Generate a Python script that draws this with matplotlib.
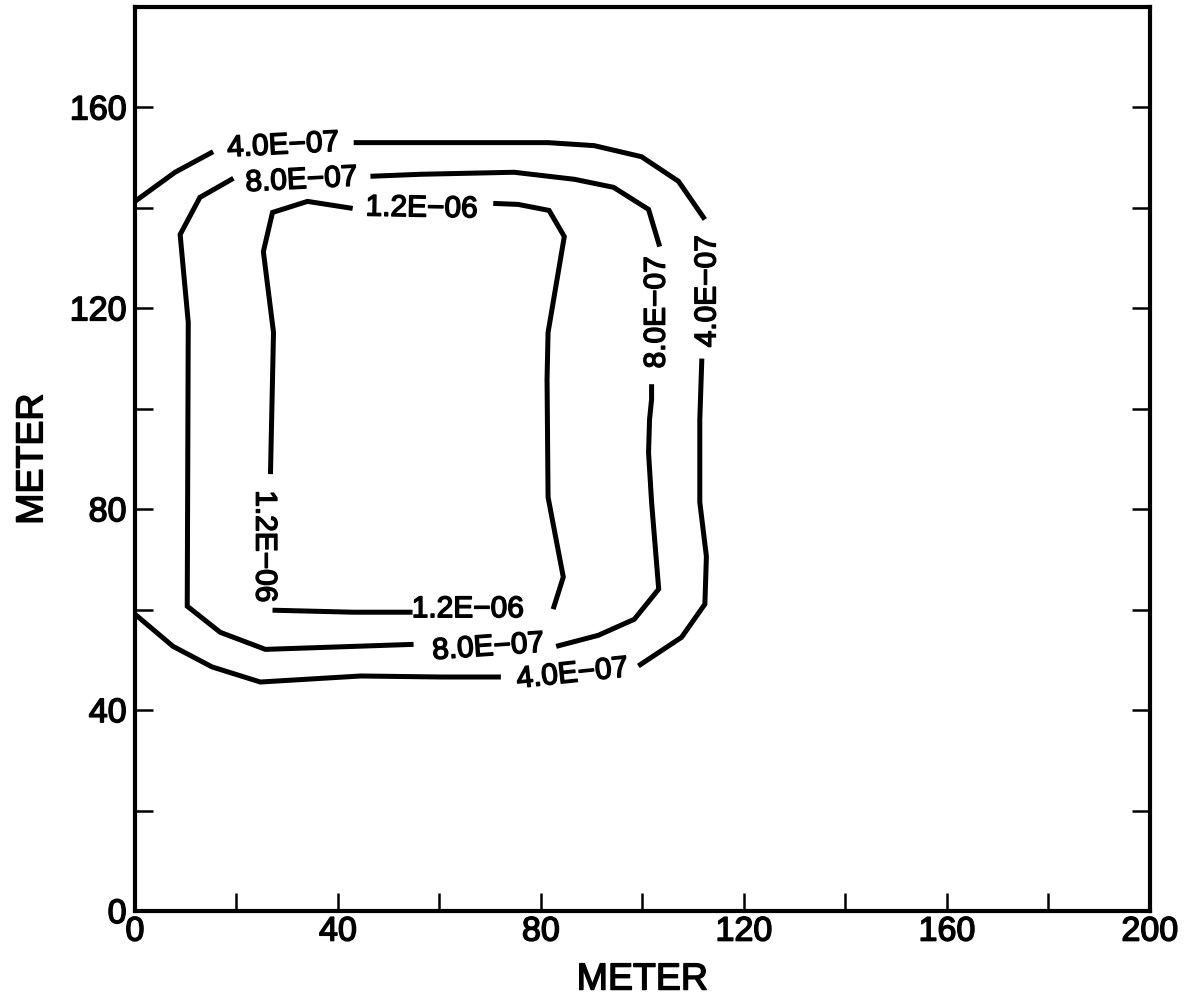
import matplotlib.pyplot as plt
import matplotlib.patheffects as pe
from matplotlib.ticker import FixedLocator, FixedFormatter

plt.rcParams['font.family'] = ['Liberation Sans', 'DejaVu Sans']

# contour 4.0E-07 (outer), pieces between the labels
c1_x = [[0, 7.9, 15.4],
        [43.1, 56.3, 81.4, 90.5, 99.8, 107.1, 112.3],
        [111.7, 111.3, 111.3, 112.6, 112.3, 107.7, 99.2],
        [72.1, 60.3, 44.5, 24.7, 15.2, 7.5, 0]]
c1_y = [[141.3, 147.1, 151.2],
        [153.0, 153.0, 153.0, 152.4, 150.2, 145.3, 137.7],
        [110.0, 97.9, 81.4, 70.6, 61.1, 54.5, 48.8],
        [46.6, 46.6, 46.8, 45.6, 48.6, 52.7, 59.1]]

# contour 8.0E-07 (middle)
c2_x = [[19.4, 12.8, 8.9, 10.5, 10.3, 16.8, 25.7, 54.9],
        [83.0, 91.3, 98.4, 103.2, 101.8, 101.2, 101.4, 101.8, 101.8],
        [103.4, 101.2, 94.3, 86.6, 74.7, 56.3, 46.4]]
c2_y = [[145.9, 142.1, 134.7, 117.2, 60.7, 55.5, 52.1, 53.1],
        [52.7, 54.9, 58.1, 64.1, 81.4, 91.3, 97.9, 101.9, 104.9],
        [132.3, 139.7, 144.1, 145.7, 147.1, 146.7, 146.3]]

# contour 1.2E-06 (inner)
c3_x = [[42.9, 34.0, 27.1, 25.3, 27.3, 26.7],
        [27.1, 43.1, 54.7],
        [82.4, 84.4, 81.4, 81.2, 81.4, 84.6, 81.6, 75.5, 70.6]]
c3_y = [[139.9, 141.3, 139.1, 131.3, 115.2, 87.0],
        [59.9, 59.5, 59.5],
        [60.1, 66.5, 82.4, 105.9, 115.2, 134.3, 139.5, 140.7, 140.9]]

# inline labels: text, x, y, rotation
lab_text = ['4.0E\u221207', '4.0E\u221207', '4.0E\u221207',
            '8.0E\u221207', '8.0E\u221207', '8.0E\u221207',
            '1.2E\u221206', '1.2E\u221206', '1.2E\u221206']
lab_x = [29.2, 112.8, 86.2, 32.8, 69.6, 102.8, 56.5, 25.5, 65.6]
lab_y = [152.4, 123.4, 47.2, 145.5, 52.5, 119.2, 139.9, 72.6, 60.1]
lab_rot = [3, 90, 6, 3, 4, 90, -1, -90, 0]

tick_vals = list(range(0, 201, 20))
x_labels = ['0', '', '40', '', '80', '', '120', '', '160', '', '200']
y_ticks = list(range(0, 181, 20))
y_labels = ['0', '', '40', '', '80', '', '120', '', '160', '']

# slightly heavier than regular, like the printed original
thick = [pe.withStroke(linewidth=1.1, foreground='black')]

fig = plt.figure(figsize=(11.86, 10.04), dpi=100)
ax = fig.add_axes([0.1138, 0.0916, 0.8558, 0.9004])

for xs, ys in [(c1_x, c1_y), (c2_x, c2_y), (c3_x, c3_y)]:
    for sx, sy in zip(xs, ys):
        ax.plot(sx, sy, color='black', lw=3.6, solid_capstyle='butt',
                solid_joinstyle='miter')

for t, x, y, r in zip(lab_text, lab_x, lab_y, lab_rot):
    ax.text(x, y, t, fontsize=21.5, rotation=r, ha='center', va='center',
            rotation_mode='anchor', path_effects=thick)

ax.set_xlim(0, 200)
ax.set_ylim(0, 180)
ax.xaxis.set_major_locator(FixedLocator(tick_vals))
ax.xaxis.set_major_formatter(FixedFormatter(x_labels))
ax.yaxis.set_major_locator(FixedLocator(y_ticks))
ax.yaxis.set_major_formatter(FixedFormatter(y_labels))
ax.tick_params(direction='in', length=13, width=1.8, labelsize=24.5,
               right=True, top=False)
ax.tick_params(axis='x', pad=4)
ax.tick_params(axis='y', pad=6)
for lbl in ax.get_xticklabels() + ax.get_yticklabels():
    lbl.set_path_effects(thick)
for s in ax.spines.values():
    s.set_linewidth(3)

ax.set_xlabel('METER', fontsize=27, labelpad=10, path_effects=thick)
ax.set_ylabel('METER', fontsize=27, labelpad=14, path_effects=thick)

fig.savefig('out.png', dpi=100)
